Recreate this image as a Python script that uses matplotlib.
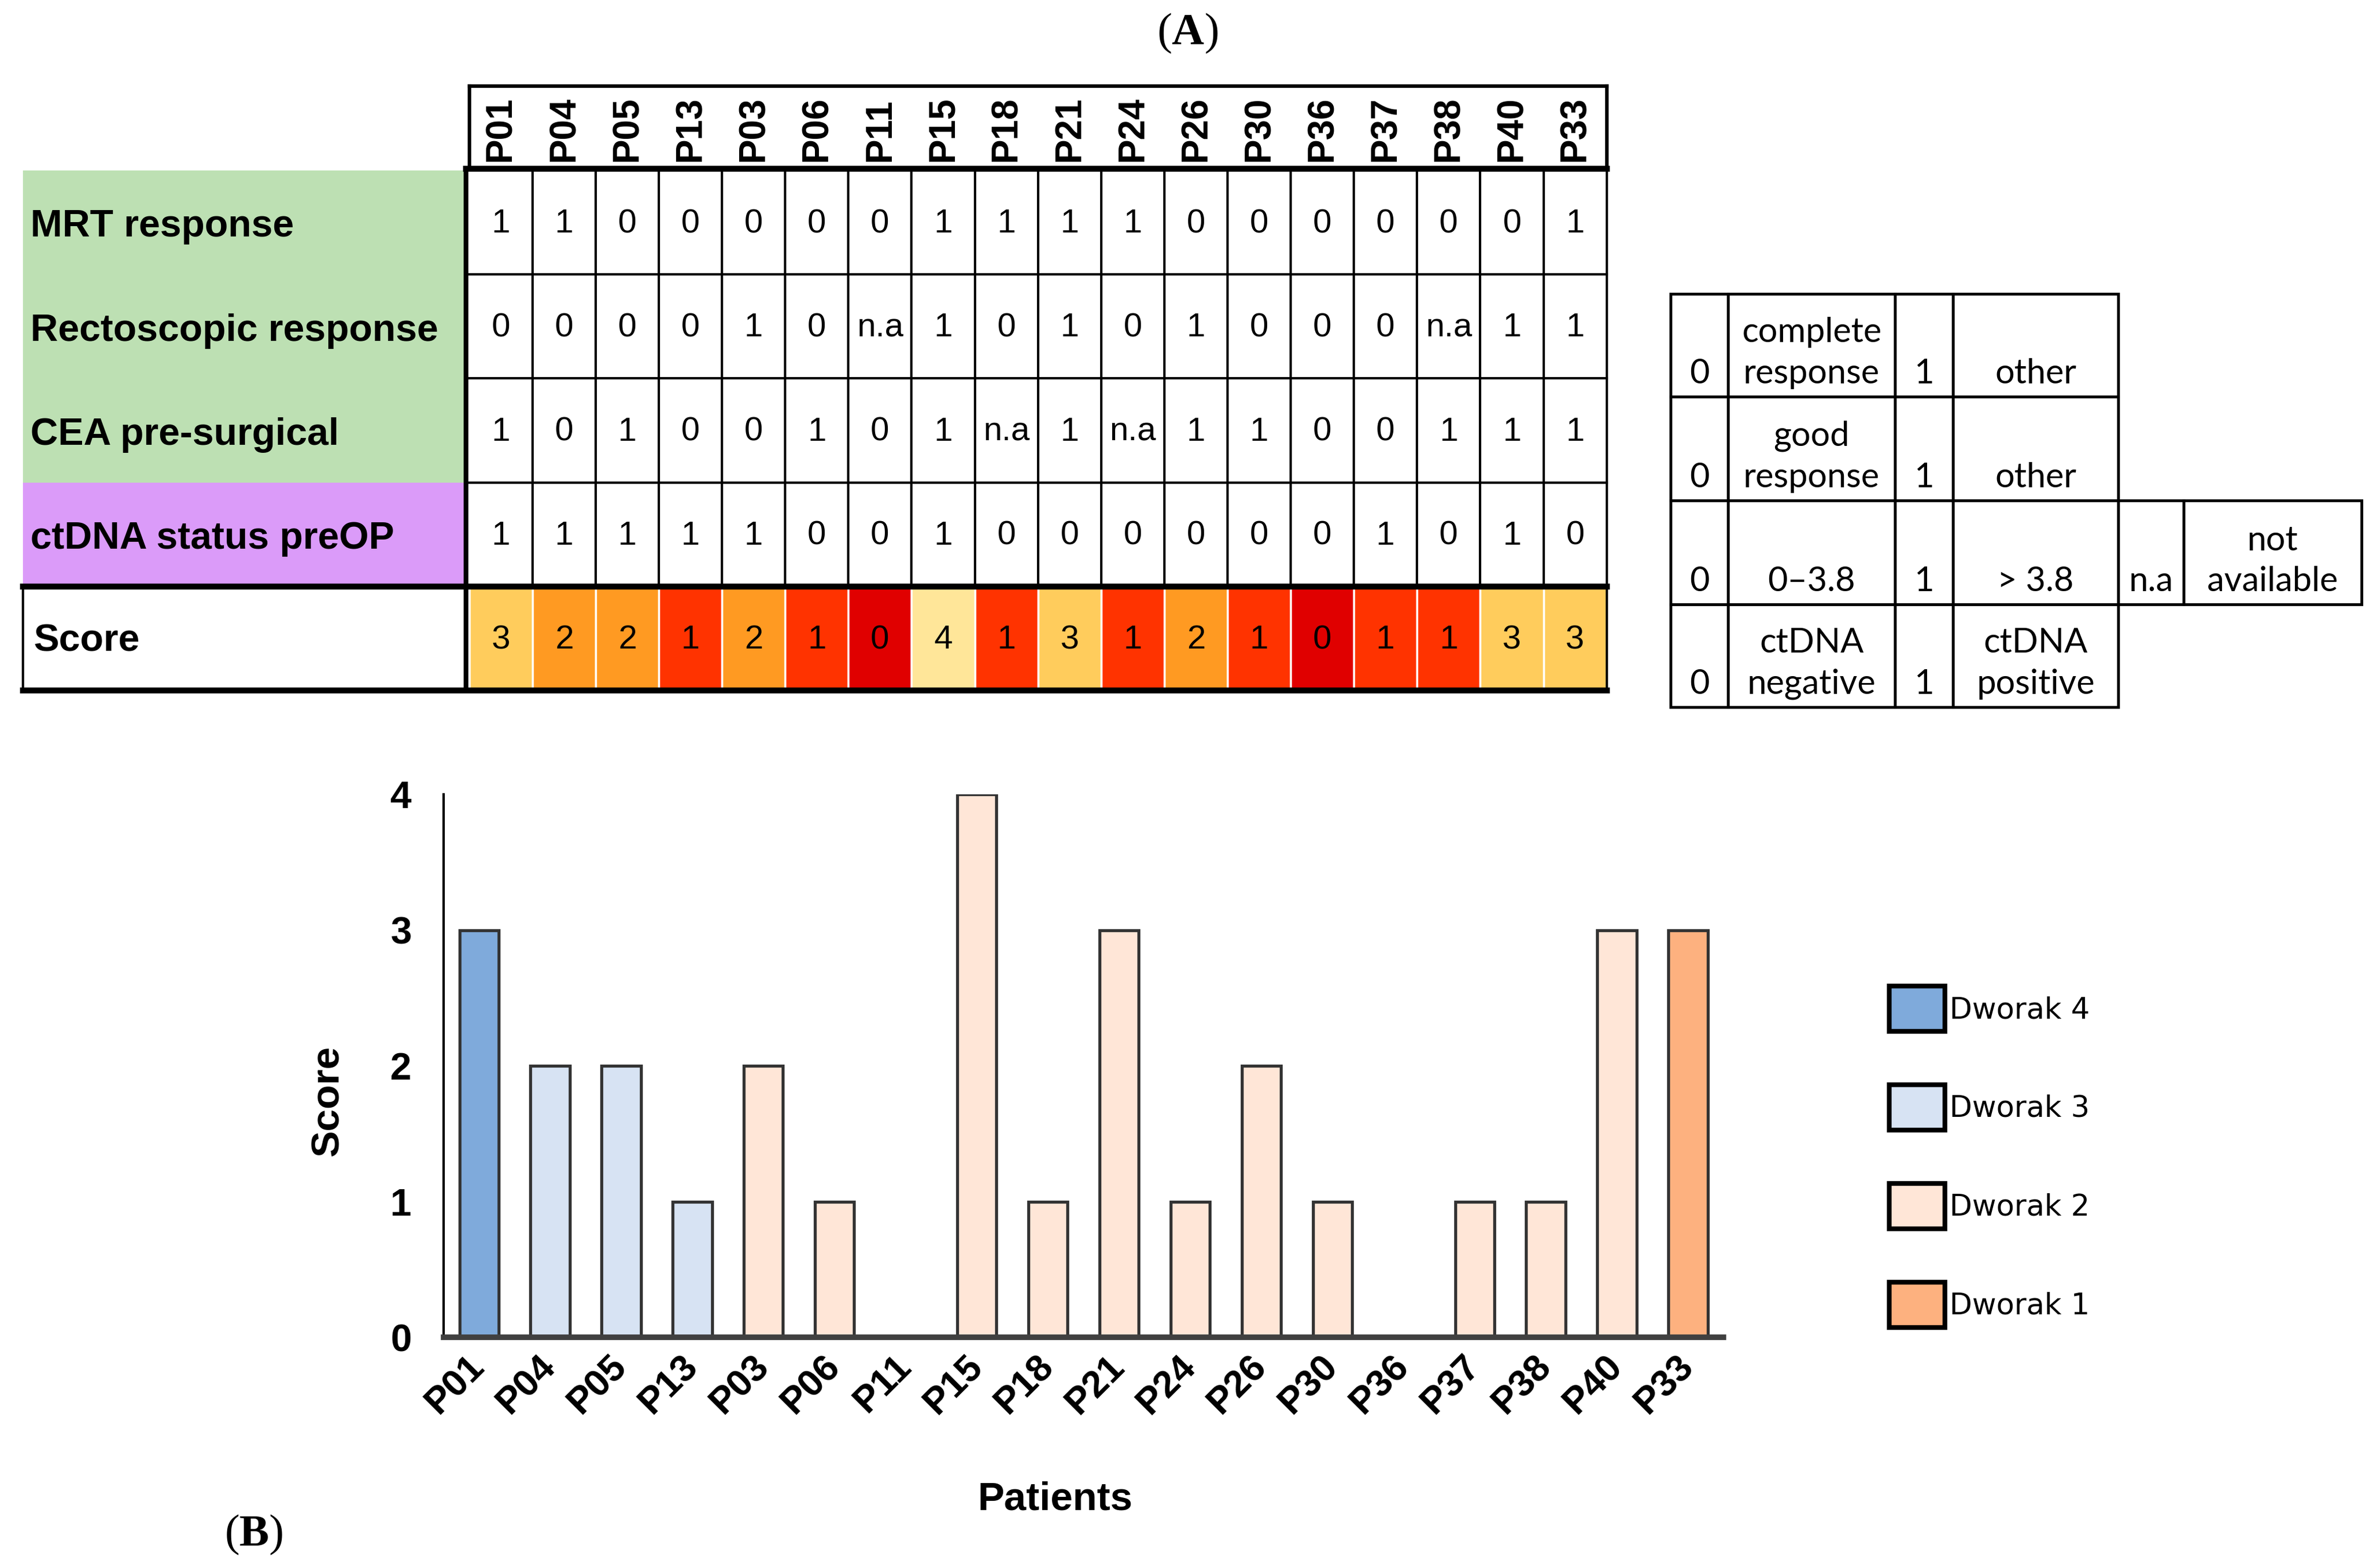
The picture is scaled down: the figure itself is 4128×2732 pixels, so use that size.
"""
Score table and Dworak bar chart, panels (A) and (B)
"""

import matplotlib.pyplot as plt
from matplotlib.patches import Rectangle, Patch

#---------------------------------------------------------------------------------------------------
# Data
#---------------------------------------------------------------------------------------------------

patients = ['P01', 'P04', 'P05', 'P13', 'P03', 'P06', 'P11', 'P15', 'P18',
            'P21', 'P24', 'P26', 'P30', 'P36', 'P37', 'P38', 'P40', 'P33']

# None = not available
mrt_response = [1, 1, 0, 0, 0, 0, 0, 1, 1, 1, 1, 0, 0, 0, 0, 0, 0, 1]
recto_response = [0, 0, 0, 0, 1, 0, None, 1, 0, 1, 0, 1, 0, 0, 0, None, 1, 1]
cea_presurgical = [1, 0, 1, 0, 0, 1, 0, 1, None, 1, None, 1, 1, 0, 0, 1, 1, 1]
ctdna_preop = [1, 1, 1, 1, 1, 0, 0, 1, 0, 0, 0, 0, 0, 0, 1, 0, 1, 0]
score = [3, 2, 2, 1, 2, 1, 0, 4, 1, 3, 1, 2, 1, 0, 1, 1, 3, 3]
dworak = [4, 3, 3, 3, 2, 2, 2, 2, 2, 2, 2, 2, 2, 2, 2, 2, 2, 1]

row_labels = ['MRT response', 'Rectoscopic response', 'CEA pre-surgical', 'ctDNA status preOP']
row_values = [mrt_response, recto_response, cea_presurgical, ctdna_preop]
row_colors = ['#bde0b3', '#bde0b3', '#bde0b3', '#db9bf9']

score_colors = {0: '#e00000', 1: '#ff3300', 2: '#ff9a22', 3: '#ffcc5c', 4: '#ffe699'}
dworak_colors = {4: '#7faadb', 3: '#d7e3f3', 2: '#ffe6d7', 1: '#fdb17f'}
dworak_order = [4, 3, 2, 1]

# key table on the right
key_rows = [['0', 'complete\nresponse', '1', 'other'],
            ['0', 'good\nresponse', '1', 'other'],
            ['0', '0\u20133.8', '1', '> 3.8', 'n.a', 'not\navailable'],
            ['0', 'ctDNA\nnegative', '1', 'ctDNA\npositive']]

#---------------------------------------------------------------------------------------------------
# Layout (reference units: 1560 x 1040 canvas)
#---------------------------------------------------------------------------------------------------

W, H = 1560, 1040
lab_x0, lab_x1 = 15, 307
tab_x0, tab_x1 = 309, 1058
head_top, head_bot = 57, 112
row_top0, row_h = 113, 69
cw = (tab_x1 - tab_x0) / len(patients)

key_x = [1100, 1138, 1248, 1286, 1395, 1438, 1555]
key_y = [195, 263, 332, 401, 469]

plt.rcParams['mathtext.fontset'] = 'custom'
plt.rcParams['mathtext.rm'] = 'Liberation Serif'
plt.rcParams['mathtext.bf'] = 'Liberation Serif:bold'

fig = plt.figure(figsize=(41.28, 27.32), dpi=100)
ax = fig.add_axes([0, 0, 1, 1])
ax.set_xlim(0, W)
ax.set_ylim(H, 0)
ax.axis('off')

thin, thick = 3.0, 7.5

#---------------------------------------------------------------------------------------------------
# (A) table
#---------------------------------------------------------------------------------------------------

ax.text(782, 22, r'($\mathbf{A}$)', ha='center', va='center', size=56, family='Liberation Serif')

# header
for j, p in enumerate(patients):
    ax.text(tab_x0 + (j + 0.5) * cw, 107, p, rotation=90, ha='center', va='bottom',
            fontweight='bold', size=46, family='Liberation Sans')
ax.plot([tab_x0, tab_x1], [head_top, head_top], color='k', lw=4.5)
ax.plot([tab_x0, tab_x0], [head_top, head_bot], color='k', lw=4.5)
ax.plot([tab_x1, tab_x1], [head_top, head_bot], color='k', lw=4.5)

# parameter rows
for i, (lab, vals, col) in enumerate(zip(row_labels, row_values, row_colors)):
    top = row_top0 + i * row_h
    ax.add_patch(Rectangle((lab_x0, top), lab_x1 - lab_x0, row_h, fc=col, ec='none'))
    ax.text(lab_x0 + 5, top + row_h / 2 + 3, lab, ha='left', va='center', fontweight='bold',
            size=48, family='Liberation Sans')
    for j, v in enumerate(vals):
        txt = 'n.a' if v is None else str(v)
        ax.text(tab_x0 + (j + 0.5) * cw, top + row_h / 2 + 1, txt, ha='center', va='center',
                size=42, family='Liberation Sans')
    if i > 0:
        ax.plot([tab_x0, tab_x1], [top, top], color='k', lw=thin)

score_top = row_top0 + len(row_labels) * row_h
for j in range(1, len(patients)):
    x = tab_x0 + j * cw
    ax.plot([x, x], [row_top0, score_top], color='k', lw=thin)
ax.plot([tab_x1, tab_x1], [row_top0, score_top + row_h], color='k', lw=thin)

# score row
for j, s in enumerate(score):
    ax.add_patch(Rectangle((tab_x0 + j * cw, score_top), cw, row_h, fc=score_colors[s],
                           ec='white', lw=2.5))
    ax.text(tab_x0 + (j + 0.5) * cw, score_top + row_h / 2 + 1, str(s), ha='center',
            va='center', size=42, family='Liberation Sans')
ax.text(lab_x0 + 7, score_top + row_h / 2 + 2, 'Score', ha='left', va='center',
        fontweight='bold', size=48, family='Liberation Sans')

ax.plot([lab_x1, tab_x1], [head_bot, head_bot], color='k', lw=thick)
ax.plot([lab_x1, lab_x1], [head_bot, score_top + row_h], color='k', lw=6)
ax.plot([lab_x0, tab_x1], [score_top, score_top], color='k', lw=thick)
ax.plot([lab_x0, tab_x1], [score_top + row_h, score_top + row_h], color='k', lw=thick)
ax.plot([lab_x0, lab_x0], [score_top, score_top + row_h], color='k', lw=thin)

# key table
for i, cells in enumerate(key_rows):
    y0, y1 = key_y[i], key_y[i + 1]
    for j, txt in enumerate(cells):
        x0, x1 = key_x[j], key_x[j + 1]
        ax.add_patch(Rectangle((x0, y0), x1 - x0, y1 - y0, fc='none', ec='k', lw=3.5))
        ax.text((x0 + x1) / 2, y1 - 5, txt, ha='center', va='bottom', size=43,
                family='Lato', linespacing=1.4)

#---------------------------------------------------------------------------------------------------
# (B) bar chart
#---------------------------------------------------------------------------------------------------

ax.text(167, 1018, r'($\mathbf{B}$)', ha='center', va='center', size=56, family='Liberation Serif')

bx = fig.add_axes([292 / W, 1 - 887 / H, (1135 - 292) / W, (887 - 527) / H])
bx.bar(range(len(patients)), score, width=0.55,
       color=[dworak_colors[d] for d in dworak], edgecolor='#333333', linewidth=3.8, zorder=3)
bx.set_xlim(-0.5, len(patients) - 0.5)
bx.set_ylim(0, 4)
bx.set_yticks(range(5))
bx.set_yticklabels([str(v) for v in range(5)], fontweight='bold', size=48,
                   family='Liberation Sans')
bx.set_xticks(range(len(patients)))
bx.set_xticklabels(patients, rotation=45, ha='right', va='center', rotation_mode='anchor',
                   fontweight='bold', size=47, family='Liberation Sans')
bx.tick_params(axis='y', length=0, pad=40)
bx.tick_params(axis='x', length=0, pad=30)
for s in ['top', 'right']:
    bx.spines[s].set_visible(False)
bx.spines['left'].set_linewidth(3)
bx.spines['bottom'].set_linewidth(7)
bx.spines['bottom'].set_color('#404040')
bx.spines['bottom'].set_zorder(4)
bx.set_ylabel('Score', fontweight='bold', size=50, family='Liberation Sans')
bx.yaxis.set_label_coords(-0.076, 0.436)
bx.set_xlabel('Patients', fontweight='bold', size=50, family='Liberation Sans')
bx.xaxis.set_label_coords(0.478, -0.265)

handles = [Patch(facecolor=dworak_colors[d], edgecolor='k', linewidth=6) for d in dworak_order]
fig.legend(handles, [f'Dworak {d}' for d in dworak_order], loc='upper left',
           bbox_to_anchor=(1244 / W, 1 - 654 / H), frameon=False,
           prop={'family': 'DejaVu Sans', 'size': 37}, handlelength=1.9, handleheight=2.0,
           labelspacing=1.8, handletextpad=0.15, borderpad=0, borderaxespad=0)

fig.savefig('out.png', dpi=100)
